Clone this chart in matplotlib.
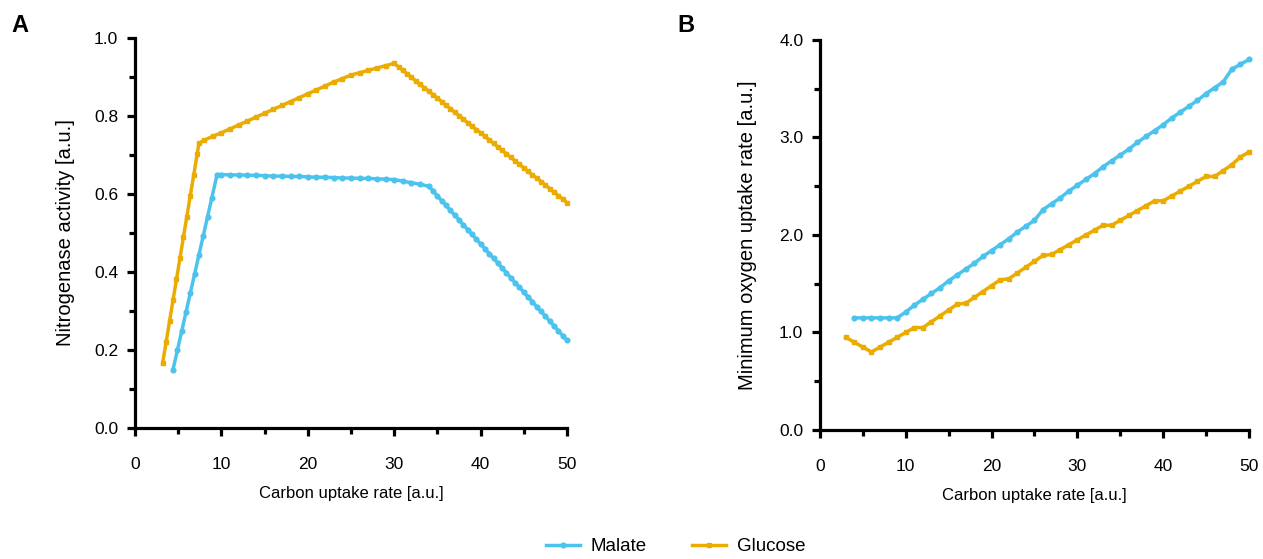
import matplotlib
matplotlib.use("Agg")
import matplotlib.pyplot as plt
from matplotlib.ticker import MultipleLocator

plt.rcParams['font.family'] = ['Liberation Sans', 'DejaVu Sans']

MALATE_COLOR = '#4CC3ED'
GLUCOSE_COLOR = '#EAAC00'

# Panel A: nitrogenase activity
malate_a_x = [4.4, 4.9, 5.4, 5.9, 6.4, 6.9, 7.4, 7.9, 8.4, 8.9, 9.5,
              10, 11, 12, 13, 14, 15, 16, 17, 18, 19, 20, 21, 22, 23, 24, 25,
              26, 27, 28, 29, 30, 31, 32, 33,
              34.0, 34.5, 35.0, 35.5, 36.0, 36.5, 37.0, 37.5, 38.0, 38.5, 39.0,
              39.5, 40.0, 40.5, 41.0, 41.5, 42.0, 42.5, 43.0, 43.5, 44.0, 44.5,
              45.0, 45.5, 46.0, 46.5, 47.0, 47.5, 48.0, 48.5, 49.0, 49.5, 50.0]
malate_a_y = [0.150, 0.199, 0.248, 0.297, 0.346, 0.395, 0.444, 0.493, 0.542, 0.591, 0.650,
              0.650, 0.649, 0.649, 0.648, 0.648, 0.647, 0.646, 0.646, 0.645, 0.645, 0.644,
              0.643, 0.643, 0.642, 0.641, 0.641, 0.640, 0.640, 0.639, 0.638, 0.637,
              0.633, 0.629, 0.625,
              0.620, 0.608, 0.595, 0.583, 0.571, 0.558, 0.546, 0.534, 0.521, 0.509, 0.497,
              0.484, 0.472, 0.460, 0.447, 0.435, 0.423, 0.410, 0.398, 0.385, 0.373, 0.361,
              0.348, 0.336, 0.324, 0.311, 0.299, 0.287, 0.274, 0.262, 0.250, 0.237, 0.225]

glucose_a_x = [3.2, 3.6, 4.0, 4.4, 4.8, 5.2, 5.6, 6.0, 6.4, 6.8, 7.2, 7.4,
               8, 9, 10, 11, 12, 13, 14, 15, 16, 17, 18, 19, 20, 21, 22, 23, 24,
               25, 26, 27, 28, 29,
               30.0, 30.5, 31.0, 31.5, 32.0, 32.5, 33.0, 33.5, 34.0, 34.5, 35.0,
               35.5, 36.0, 36.5, 37.0, 37.5, 38.0, 38.5, 39.0, 39.5, 40.0, 40.5,
               41.0, 41.5, 42.0, 42.5, 43.0, 43.5, 44.0, 44.5, 45.0, 45.5, 46.0,
               46.5, 47.0, 47.5, 48.0, 48.5, 49.0, 49.5, 50.0]
glucose_a_y = [0.167, 0.220, 0.274, 0.328, 0.381, 0.435, 0.489, 0.542, 0.596, 0.649, 0.703, 0.730,
               0.738, 0.748, 0.757, 0.767, 0.777, 0.787, 0.797, 0.807, 0.817, 0.827, 0.837,
               0.847, 0.857, 0.867, 0.877, 0.887, 0.896,
               0.905, 0.911, 0.917, 0.923, 0.929,
               0.935, 0.926, 0.917, 0.908, 0.899, 0.890, 0.881, 0.872, 0.864, 0.855, 0.846,
               0.837, 0.828, 0.819, 0.810, 0.801, 0.792, 0.783, 0.774, 0.765, 0.757, 0.748,
               0.739, 0.730, 0.721, 0.712, 0.703, 0.694, 0.685, 0.676, 0.667, 0.658, 0.649,
               0.641, 0.632, 0.623, 0.614, 0.605, 0.596, 0.587, 0.578]

# Panel B: minimum oxygen uptake rate
malate_b_x = list(range(4, 51))
malate_b_y = [1.15, 1.15, 1.15, 1.15, 1.15, 1.15, 1.21, 1.28, 1.34, 1.40, 1.46,
              1.53, 1.59, 1.65, 1.71, 1.78, 1.84, 1.90, 1.96, 2.03, 2.09, 2.15,
              2.26, 2.32, 2.38, 2.45, 2.51, 2.57, 2.63, 2.70, 2.76, 2.82, 2.88,
              2.95, 3.01, 3.07, 3.13, 3.20, 3.26, 3.32, 3.38, 3.45, 3.51, 3.57,
              3.70, 3.75, 3.80]

glucose_b_x = list(range(3, 51))
glucose_b_y = [0.95, 0.90, 0.85, 0.80, 0.85, 0.90, 0.95, 1.00, 1.05, 1.05,
               1.11, 1.17, 1.23, 1.29, 1.30, 1.36, 1.42, 1.48, 1.54, 1.55,
               1.61, 1.67, 1.73, 1.79, 1.80, 1.85, 1.90, 1.95, 2.00, 2.05,
               2.10, 2.10, 2.15, 2.20, 2.25, 2.30, 2.35, 2.35, 2.40, 2.45,
               2.50, 2.55, 2.60, 2.60, 2.66, 2.72, 2.80, 2.85]

x_label = 'Carbon uptake rate [a.u.]'


def style_axes(ax, ymax, ymajor, yminor):
    ax.spines['top'].set_visible(False)
    ax.spines['right'].set_visible(False)
    for side in ('left', 'bottom'):
        ax.spines[side].set_linewidth(2.3)
    ax.set_xlim(0, 50)
    ax.set_ylim(0, ymax)
    ax.xaxis.set_major_locator(MultipleLocator(10))
    ax.xaxis.set_minor_locator(MultipleLocator(5))
    ax.yaxis.set_major_locator(MultipleLocator(ymajor))
    ax.yaxis.set_minor_locator(MultipleLocator(yminor))
    ax.tick_params(which='major', length=6, width=2.3, labelsize=12.5)
    ax.tick_params(which='minor', length=4, width=2.3)
    ax.tick_params(axis='x', which='major', pad=15)
    ax.tick_params(axis='y', which='major', pad=6)
    ax.yaxis.set_major_formatter(plt.FormatStrFormatter('%.1f'))
    ax.set_xlabel(x_label, fontsize=12, labelpad=10)


fig = plt.figure(figsize=(12.63, 5.59), dpi=100)
ax_a = fig.add_axes([0.1069, 0.2343, 0.342, 0.6977])
ax_b = fig.add_axes([0.6492, 0.2308, 0.3397, 0.6977])

line_kw = dict(linewidth=2.5, markersize=3.4, clip_on=False)
m1, = ax_a.plot(malate_a_x, malate_a_y, color=MALATE_COLOR, marker='o', **line_kw)
g1, = ax_a.plot(glucose_a_x, glucose_a_y, color=GLUCOSE_COLOR, marker='s', **line_kw)
ax_b.plot(malate_b_x, malate_b_y, color=MALATE_COLOR, marker='o', **line_kw)
ax_b.plot(glucose_b_x, glucose_b_y, color=GLUCOSE_COLOR, marker='s', **line_kw)

style_axes(ax_a, 1.0, 0.2, 0.1)
style_axes(ax_b, 4.0, 1.0, 0.5)
ax_a.set_ylabel('Nitrogenase activity [a.u.]', fontsize=14.5, labelpad=14)
ax_b.set_ylabel('Minimum oxygen uptake rate [a.u.]', fontsize=14.5, labelpad=16)

fig.text(0.009, 0.955, 'A', fontsize=17, fontweight='bold', va='center')
fig.text(0.536, 0.955, 'B', fontsize=17, fontweight='bold', va='center')

fig.legend([m1, g1], ['Malate', 'Glucose'], loc='center', bbox_to_anchor=(0.535, 0.022),
           ncol=2, frameon=False, fontsize=13.5, handlelength=1.8, columnspacing=2.4,
           handletextpad=0.6)

fig.savefig('out.png', dpi=100)
